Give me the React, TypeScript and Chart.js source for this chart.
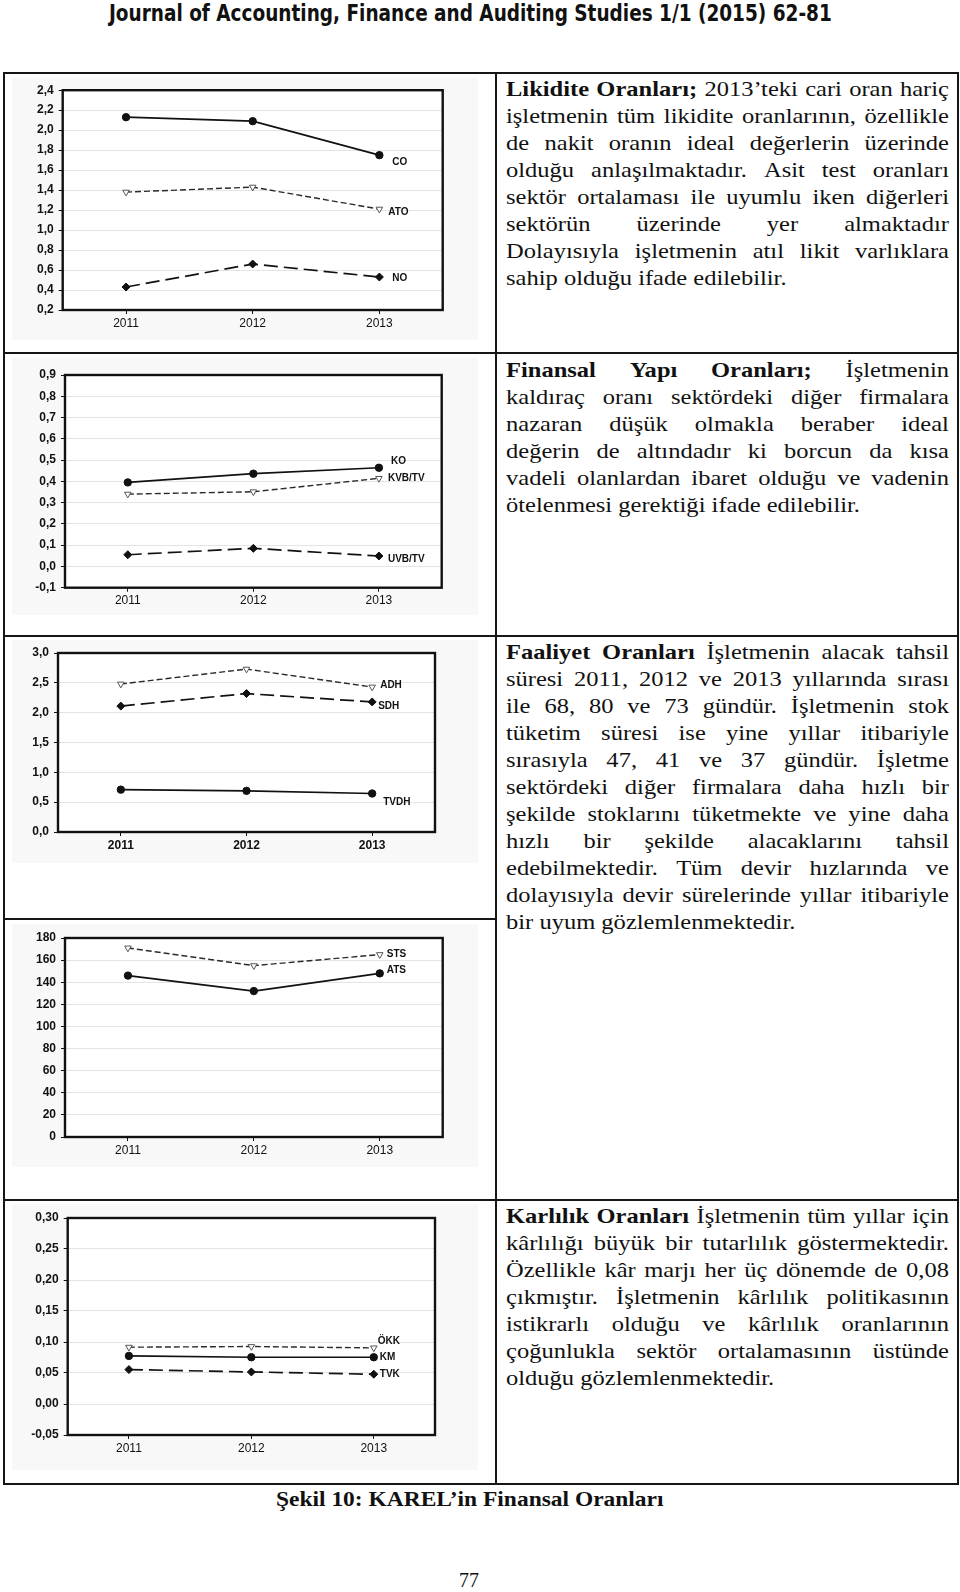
import React, { useEffect, useLayoutEffect, useRef, useState } from "react";
import { Chart, registerables } from "chart.js";

Chart.register(...registerables);

// ---------- DATA ----------
const years = ["2011", "2012", "2013"];

// Likidite oranları
const liqNames = ["CO", "ATO", "NO"];
const coValues = [2.13, 2.09, 1.75];
const atoValues = [1.38, 1.43, 1.21];
const noValues = [0.43, 0.66, 0.53];

// Finansal yapı oranları
const finNames = ["KO", "KVB/TV", "UVB/TV"];
const koValues = [0.395, 0.436, 0.464];
const kvbValues = [0.34, 0.351, 0.414];
const uvbValues = [0.055, 0.085, 0.049];

// Faaliyet oranları (devir hızları)
const actNames = ["ADH", "SDH", "TVDH"];
const adhValues = [2.48, 2.73, 2.43];
const sdhValues = [2.11, 2.32, 2.18];
const tvdhValues = [0.71, 0.69, 0.645];

// Faaliyet oranları (süreler)
const durNames = ["STS", "ATS"];
const stsValues = [171, 155, 165];
const atsValues = [146, 132, 148];

// Karlılık oranları
const profNames = ["ÖKK", "KM", "TVK"];
const okkValues = [0.0916, 0.0927, 0.0905];
const kmValues = [0.0776, 0.0754, 0.0754];
const tvkValues = [0.0555, 0.0517, 0.048];

// y-axis ranges [min, max, step, decimals]
const liqAxis = [0.2, 2.4, 0.2, 1];
const finAxis = [-0.1, 0.9, 0.1, 1];
const actAxis = [0, 3.0, 0.5, 1];
const durAxis = [0, 180, 20, 0];
const profAxis = [-0.05, 0.3, 0.05, 2];

// text
const headerText = "Journal of Accounting, Finance and Auditing Studies 1/1 (2015) 62-81";
const captionText = "Şekil 10: KAREL’in Finansal Oranları";
const pageNumber = "77";

const para1 = [
  "Likidite Oranları; 2013’teki cari oran hariç",
  "işletmenin tüm likidite oranlarının, özellikle",
  "de nakit oranın ideal değerlerin üzerinde",
  "olduğu anlaşılmaktadır. Asit test oranları",
  "sektör ortalaması ile uyumlu iken diğerleri",
  "sektörün üzerinde yer almaktadır",
  "Dolayısıyla işletmenin atıl likit varlıklara",
  "sahip olduğu ifade edilebilir.",
];
const para2 = [
  "Finansal Yapı Oranları; İşletmenin",
  "kaldıraç oranı sektördeki diğer firmalara",
  "nazaran düşük olmakla beraber ideal",
  "değerin de altındadır ki borcun da kısa",
  "vadeli olanlardan ibaret olduğu ve vadenin",
  "ötelenmesi gerektiği ifade edilebilir.",
];
const para3 = [
  "Faaliyet Oranları İşletmenin alacak tahsil",
  "süresi 2011, 2012 ve 2013 yıllarında sırası",
  "ile 68, 80 ve 73 gündür. İşletmenin stok",
  "tüketim süresi ise yine yıllar itibariyle",
  "sırasıyla 47, 41 ve 37 gündür. İşletme",
  "sektördeki diğer firmalara daha hızlı bir",
  "şekilde stoklarını tüketmekte ve yine daha",
  "hızlı bir şekilde alacaklarını tahsil",
  "edebilmektedir. Tüm devir hızlarında ve",
  "dolayısıyla devir sürelerinde yıllar itibariyle",
  "bir uyum gözlemlenmektedir.",
];
const para4 = [
  "Karlılık Oranları İşletmenin tüm yıllar için",
  "kârlılığı büyük bir tutarlılık göstermektedir.",
  "Özellikle kâr marjı her üç dönemde de 0,08",
  "çıkmıştır. İşletmenin kârlılık politikasının",
  "istikrarlı olduğu ve kârlılık oranlarının",
  "çoğunlukla sektör ortalamasının üstünde",
  "olduğu gözlemlenmektedir.",
];

// ---------- STYLES ----------
type Kind = "solid" | "short" | "long";
const AXIS_FONT = "'Liberation Sans', Arial, sans-serif";

function makeDataset(label: string, values: number[], kind: Kind, dx: number, dy: number) {
  const base: any = {
    label,
    data: values,
    tension: 0,
    fill: false,
    labelDx: dx,
    labelDy: dy,
  };
  if (kind === "solid") {
    return {
      ...base,
      borderColor: "#111",
      borderWidth: 1.7,
      pointStyle: "circle",
      pointRadius: 3.7,
      pointBackgroundColor: "#111",
      pointBorderColor: "#111",
      pointBorderWidth: 1,
    };
  }
  if (kind === "short") {
    return {
      ...base,
      borderColor: "#2a2a2a",
      borderWidth: 1.4,
      borderDash: [6, 3],
      pointStyle: "triangle",
      pointRotation: 180,
      pointRadius: 3.8,
      pointBackgroundColor: "#ffffff",
      pointBorderColor: "#555",
      pointBorderWidth: 1,
    };
  }
  return {
    ...base,
    borderColor: "#111",
    borderWidth: 1.7,
    borderDash: [14, 6],
    pointStyle: "rectRot",
    pointRadius: 4,
    pointBackgroundColor: "#111",
    pointBorderColor: "#111",
    pointBorderWidth: 1,
  };
}

const bgPlugin = {
  id: "bg",
  beforeDraw(chart: any) {
    const { ctx, chartArea } = chart;
    ctx.save();
    ctx.fillStyle = "#f8f8f8";
    ctx.fillRect(0, 0, chart.width, chart.height);
    ctx.fillStyle = "#ffffff";
    ctx.fillRect(chartArea.left, chartArea.top, chartArea.right - chartArea.left, chartArea.bottom - chartArea.top);
    ctx.restore();
  },
};

const framePlugin = {
  id: "frame",
  afterDatasetsDraw(chart: any) {
    const { ctx, chartArea } = chart;
    ctx.save();
    ctx.strokeStyle = "#111";
    ctx.lineWidth = 2.4;
    ctx.strokeRect(chartArea.left, chartArea.top, chartArea.right - chartArea.left, chartArea.bottom - chartArea.top);
    ctx.restore();
  },
};

const labelPlugin = {
  id: "seriesLabels",
  afterDraw(chart: any) {
    const ctx = chart.ctx;
    ctx.save();
    ctx.font = `bold 10px ${AXIS_FONT}`;
    ctx.fillStyle = "#111";
    ctx.textAlign = "left";
    ctx.textBaseline = "middle";
    chart.data.datasets.forEach((ds: any, i: number) => {
      const meta = chart.getDatasetMeta(i);
      const pt = meta.data[meta.data.length - 1];
      ctx.fillText(ds.label, pt.x + ds.labelDx, pt.y + ds.labelDy);
    });
    ctx.restore();
  },
};

interface ChartDef {
  box: { left: number; top: number; width: number; height: number };
  plot: { left: number; top: number; right: number; bottom: number };
  axis: number[];
  xBold?: boolean;
  datasets: any[];
}

function LineChart({ def }: { def: ChartDef }) {
  const ref = useRef<HTMLCanvasElement>(null);
  useEffect(() => {
    const { box, plot, axis } = def;
    const [yMin, yMax, yStep, dec] = axis;
    const W = plot.left - box.left;
    const H = box.top + box.height - plot.bottom;
    const padTop = plot.top - box.top;
    const padRight = box.left + box.width - plot.right;
    const n = Math.round((yMax - yMin) / yStep);
    const tickVals: number[] = [];
    for (let i = 0; i <= n; i++) tickVals.push(+(yMin + i * yStep).toFixed(6));

    const chart = new Chart(ref.current as HTMLCanvasElement, {
      type: "line",
      data: { labels: years, datasets: def.datasets },
      options: {
        responsive: false,
        animation: false,
        devicePixelRatio: 1,
        events: [],
        layout: { padding: { left: 0, top: padTop, right: padRight, bottom: 0 } },
        plugins: {
          legend: { display: false },
          tooltip: { enabled: false },
        },
        scales: {
          x: {
            type: "category",
            offset: true,
            border: { display: false },
            grid: {
              display: true,
              drawOnChartArea: false,
              drawTicks: true,
              tickLength: 4,
              tickColor: "#111",
              offset: false,
            },
            ticks: {
              color: "#111",
              padding: 2,
              maxRotation: 0,
              autoSkip: false,
              font: { family: AXIS_FONT, size: 12, weight: def.xBold ? "bold" : "normal" },
            },
            afterFit: (s: any) => {
              s.height = H;
            },
          },
          y: {
            type: "linear",
            min: yMin,
            max: yMax,
            border: { display: false },
            grid: {
              color: "#e4e4e4",
              lineWidth: 1,
              tickColor: "#111",
              tickLength: 4,
            },
            ticks: {
              color: "#111",
              padding: 5,
              font: { family: AXIS_FONT, size: 12, weight: "bold" },
              callback: (v: any) => Number(v).toFixed(dec).replace(".", ","),
            },
            afterBuildTicks: (s: any) => {
              s.ticks = tickVals.map((v) => ({ value: v }));
            },
            afterFit: (s: any) => {
              s.width = W;
            },
          },
        },
      } as any,
      plugins: [bgPlugin, framePlugin, labelPlugin],
    });
    return () => chart.destroy();
  }, []);
  return (
    <canvas
      ref={ref}
      width={def.box.width}
      height={def.box.height}
      style={{ position: "absolute", left: def.box.left, top: def.box.top, width: def.box.width, height: def.box.height }}
    />
  );
}

const charts: ChartDef[] = [
  {
    box: { left: 12, top: 78, width: 466, height: 262 },
    plot: { left: 62.7, top: 90, right: 442.7, bottom: 310 },
    axis: liqAxis,
    datasets: [
      makeDataset(liqNames[0], coValues, "solid", 13, 7),
      makeDataset(liqNames[1], atoValues, "short", 9, 3),
      makeDataset(liqNames[2], noValues, "long", 13, 1),
    ],
  },
  {
    box: { left: 12, top: 358, width: 466, height: 257 },
    plot: { left: 65, top: 375, right: 441.7, bottom: 587.7 },
    axis: finAxis,
    datasets: [
      makeDataset(finNames[0], koValues, "solid", 12, -6),
      makeDataset(finNames[1], kvbValues, "short", 9, 0),
      makeDataset(finNames[2], uvbValues, "long", 9, 3),
    ],
  },
  {
    box: { left: 12, top: 640, width: 466, height: 223 },
    plot: { left: 58, top: 653, right: 435, bottom: 832 },
    axis: actAxis,
    xBold: true,
    datasets: [
      makeDataset(actNames[0], adhValues, "short", 8, -2),
      makeDataset(actNames[1], sdhValues, "long", 6, 4),
      makeDataset(actNames[2], tvdhValues, "solid", 11, 9),
    ],
  },
  {
    box: { left: 12, top: 924, width: 466, height: 243 },
    plot: { left: 65, top: 938, right: 442.7, bottom: 1137 },
    axis: durAxis,
    datasets: [
      makeDataset(durNames[0], stsValues, "short", 7, 0),
      makeDataset(durNames[1], atsValues, "solid", 7, -3),
    ],
  },
  {
    box: { left: 12, top: 1204, width: 466, height: 266 },
    plot: { left: 67.7, top: 1218, right: 435, bottom: 1435 },
    axis: profAxis,
    datasets: [
      makeDataset(profNames[0], okkValues, "short", 4, -7),
      makeDataset(profNames[1], kmValues, "solid", 6, 0),
      makeDataset(profNames[2], tvkValues, "long", 6, 0),
    ],
  },
];

// ---------- TEXT HELPERS ----------
function FitText({ text, center, top, target, font, lineHeight }: any) {
  const ref = useRef<HTMLSpanElement>(null);
  const [scale, setScale] = useState(1);
  useLayoutEffect(() => {
    if (ref.current) {
      const ww = ref.current.offsetWidth;
      if (ww > 0) setScale(target / ww);
    }
  }, []);
  return (
    <span
      ref={ref}
      style={{
        position: "absolute",
        left: center - target / 2,
        top,
        whiteSpace: "nowrap",
        font,
        lineHeight: lineHeight + "px",
        color: "#111",
        transform: `scaleX(${scale})`,
        transformOrigin: "left top",
      }}
    >
      {text}
    </span>
  );
}

const SERIF = "'Liberation Serif', 'Times New Roman', serif";
const TEXT_LEFT = 506;
const TEXT_WIDTH = 443;
const TEXT_SIZE = 21.5;
const STRETCH = 1.14;
const GAP = 5.4;

function TextLine({ line, top, bold, last }: { line: string; top: number; bold: number; last: boolean }) {
  const inner = useRef<HTMLDivElement>(null);
  const [k, setK] = useState(STRETCH);
  const words = line.split(" ");
  useLayoutEffect(() => {
    const el = inner.current;
    if (!el) return;
    let sum = 0;
    Array.from(el.children).forEach((c) => {
      sum += (c as HTMLElement).offsetWidth;
    });
    const natural = sum + GAP * (words.length - 1);
    if (natural * STRETCH > TEXT_WIDTH) setK(TEXT_WIDTH / natural);
  }, []);
  return (
    <div style={{ position: "absolute", left: TEXT_LEFT, top, width: TEXT_WIDTH, height: 27 }}>
      <div
        ref={inner}
        style={{
          display: "flex",
          width: TEXT_WIDTH / k,
          justifyContent: last ? "flex-start" : "space-between",
          gap: last ? GAP : 0,
          whiteSpace: "nowrap",
          fontFamily: SERIF,
          fontSize: TEXT_SIZE,
          lineHeight: "27px",
          color: "#111",
          transform: `scaleX(${k})`,
          transformOrigin: "left top",
        }}
      >
        {words.map((wd, j) => (
          <span key={j} style={{ fontWeight: j < bold ? "bold" : "normal", flexShrink: 0 }}>
            {wd}
          </span>
        ))}
      </div>
    </div>
  );
}

function Paragraph({ lines, top, boldCount }: { lines: string[]; top: number; boldCount: number }) {
  return (
    <>
      {lines.map((line, i) => (
        <TextLine
          key={i}
          line={line}
          top={top + i * 27}
          bold={i === 0 ? boldCount : 0}
          last={i === lines.length - 1}
        />
      ))}
    </>
  );
}

function Rule({ x, y, w, h }: { x: number; y: number; w: number; h: number }) {
  return <div style={{ position: "absolute", left: x, top: y, width: w, height: h, background: "#161616" }} />;
}

export default function App() {
  return (
    <div
      style={{
        position: "absolute",
        left: 0,
        top: 0,
        width: 960,
        height: 1592,
        background: "#ffffff",
        overflow: "hidden",
      }}
    >
      <FitText
        text={headerText}
        center={470}
        top={0}
        target={723}
        font={"bold 23px 'Liberation Sans Narrow', 'DejaVu Sans Condensed', 'Liberation Sans', sans-serif"}
        lineHeight={26}
      />

      {charts.map((c, i) => (
        <LineChart key={i} def={c} />
      ))}

      {/* table frame */}
      <Rule x={3} y={72} w={956} h={2} />
      <Rule x={3} y={1483} w={956} h={2} />
      <Rule x={3} y={72} w={2} h={1413} />
      <Rule x={957} y={72} w={2} h={1413} />
      <Rule x={495} y={72} w={2} h={1413} />
      <Rule x={3} y={352} w={956} h={2} />
      <Rule x={3} y={635} w={956} h={2} />
      <Rule x={3} y={918} w={494} h={2} />
      <Rule x={3} y={1199} w={956} h={2} />

      <Paragraph lines={para1} top={76} boldCount={2} />
      <Paragraph lines={para2} top={357} boldCount={3} />
      <Paragraph lines={para3} top={639} boldCount={2} />
      <Paragraph lines={para4} top={1203} boldCount={2} />

      <FitText
        text={captionText}
        center={469}
        top={1486}
        target={387}
        font={`bold 22px ${SERIF}`}
        lineHeight={26}
      />
      <FitText text={pageNumber} center={469} top={1568} target={20} font={`21px ${SERIF}`} lineHeight={24} />
    </div>
  );
}
